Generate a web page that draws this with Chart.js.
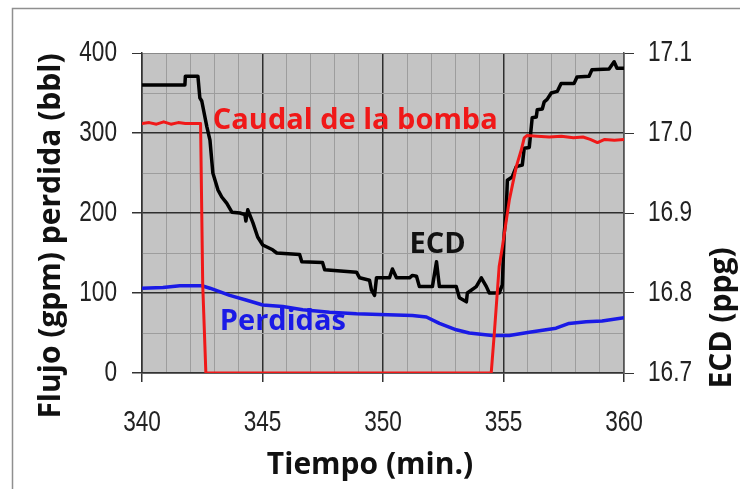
<!DOCTYPE html>
<html>
<head>
<meta charset="utf-8">
<script src="https://cdn.jsdelivr.net/npm/chart.js"></script>
<style>
  body { margin: 0; background: #fff; }
  #wrap { position: relative; width: 740px; height: 489px; }
</style>
</head>
<body>
<div id="wrap"><canvas id="myChart" width="740" height="489"></canvas></div>
<script>
// Caudal de la bomba (gpm) - eje izquierdo
var tiempoCaudal = [340, 340.3, 340.6, 340.9, 341.2, 341.5, 341.8, 342.1, 342.43, 342.52,
    342.65, 354.49, 354.62, 354.82, 354.95, 355.24, 355.53, 355.74, 355.86, 355.98,
    356.4, 356.9, 357.4, 357.9, 358.3, 358.6, 358.9, 359.2, 359.6, 360];
var caudal = [312, 313, 311, 314, 311, 313, 312, 312, 312, 110,
    0, 0, 50, 133, 157, 216, 258, 279, 294, 297,
    296, 295, 296, 294, 295, 292, 288, 292, 291, 292];

// ECD (ppg) - eje derecho
var tiempoECD = [340.00, 341.78, 341.80, 342.32, 342.40, 342.48, 342.69, 342.82, 342.94, 343.15,
    343.31, 343.52, 343.73, 344.06, 344.27, 344.31, 344.39, 344.60, 344.80, 345.01,
    345.42, 345.59, 346.54, 346.63, 347.49, 347.58, 348.90, 349.03, 349.44, 349.52,
    349.65, 349.73, 350.27, 350.39, 350.56, 351.10, 351.22, 351.39, 351.51, 352.05,
    352.22, 352.34, 353.04, 353.17, 353.46, 353.50, 353.87, 354.08, 354.29, 354.41,
    354.82, 354.95, 355.03, 355.11, 355.16, 355.36, 355.53, 355.78, 355.86, 356.07,
    356.19, 356.36, 356.40, 356.61, 356.69, 356.81, 356.98, 357.23, 357.39, 357.93,
    358.05, 358.55, 358.67, 359.38, 359.59, 359.71, 360.00];
var ecd = [17.060, 17.060, 17.071, 17.071, 17.044, 17.040, 17.008, 16.991, 16.950, 16.929,
    16.920, 16.912, 16.901, 16.900, 16.898, 16.890, 16.904, 16.888, 16.870, 16.860,
    16.854, 16.850, 16.848, 16.839, 16.838, 16.829, 16.826, 16.819, 16.816, 16.804,
    16.797, 16.819, 16.819, 16.830, 16.819, 16.819, 16.822, 16.821, 16.808, 16.808,
    16.839, 16.808, 16.808, 16.794, 16.789, 16.800, 16.808, 16.819, 16.808, 16.800,
    16.800, 16.810, 16.875, 16.900, 16.941, 16.945, 16.958, 16.960, 16.981, 16.982,
    17.019, 17.020, 17.029, 17.030, 17.039, 17.042, 17.050, 17.052, 17.062, 17.062,
    17.070, 17.071, 17.079, 17.080, 17.089, 17.081, 17.081];

// Perdidas (bbl) - eje izquierdo
var tiempoPerdidas = [340, 340.87, 341.57, 342.48, 342.82, 343.64, 344.35, 345.01, 345.84, 346.67,
    347.78, 348.90, 349.86, 351.22, 351.80, 352.34, 353.04, 353.58, 354.53, 355.24,
    356.07, 357.18, 357.72, 358.43, 359.09, 360];
var perdidas = [106, 107, 109, 109, 106, 97, 91, 85, 83, 79,
    76, 74, 73, 72, 70, 62, 54, 50, 47, 47,
    51, 56, 62, 64, 65, 69];

// textos dentro del grafico (posicion en unidades del eje izquierdo)
var etiquetas = ['Caudal de la bomba', 'ECD', 'Perdidas'];
var etiquetaX = [342.94, 351.1, 343.23];
var etiquetaY = [305, 150, 54];
var etiquetaColor = ['#f01818', '#111111', '#1a1ae6'];

var fuenteNum = '"Liberation Sans", Arial, sans-serif';
var fuenteTit = '"Open Sans", "Noto Sans", sans-serif';

function puntos(xs, ys) {
    var arr = [];
    for (var i = 0; i < xs.length; i++) {
        arr.push({ x: xs[i], y: ys[i] });
    }
    return arr;
}

function esMayor(v, paso) {
    return Math.abs(v / paso - Math.round(v / paso)) < 1e-6;
}

// numero angosto (la fuente narrow no esta, se comprime en x)
function numAngosto(ctx, texto, x, y, align) {
    ctx.save();
    ctx.translate(x, y);
    ctx.scale(0.78, 1);
    ctx.textAlign = align;
    ctx.textBaseline = 'middle';
    ctx.fillText(texto, 0, 0);
    ctx.restore();
}

// fondo gris del area y marco exterior
var fondoPlugin = {
    id: 'fondo',
    beforeDraw: function(chart) {
        var ctx = chart.ctx;
        var a = chart.chartArea;
        ctx.save();
        ctx.fillStyle = '#fff';
        ctx.fillRect(0, 0, chart.width, chart.height);
        ctx.strokeStyle = '#8f8f8f';
        ctx.lineWidth = 1.5;
        ctx.beginPath();
        ctx.moveTo(740, 8.5);
        ctx.lineTo(12.5, 8.5);
        ctx.lineTo(12.5, 489);
        ctx.stroke();
        ctx.fillStyle = '#c4c4c4';
        ctx.fillRect(a.left, a.top, a.right - a.left, a.bottom - a.top);
        ctx.restore();
    }
};

// titulos de ejes, numeros de los ejes y etiquetas de las series
var textoPlugin = {
    id: 'textos',
    afterDatasetsDraw: function(chart) {
        var ctx = chart.ctx;
        var sx = chart.scales.x;
        var sy = chart.scales.y;
        ctx.save();
        ctx.textAlign = 'left';
        ctx.textBaseline = 'alphabetic';
        ctx.font = 'bold 29px ' + fuenteTit;
        for (var i = 0; i < etiquetas.length; i++) {
            ctx.fillStyle = etiquetaColor[i];
            ctx.fillText(etiquetas[i], sx.getPixelForValue(etiquetaX[i]), sy.getPixelForValue(etiquetaY[i]));
        }
        ctx.restore();
    },
    afterDraw: function(chart) {
        var ctx = chart.ctx;
        var sx = chart.scales.x;
        var sy = chart.scales.y;
        var sy2 = chart.scales.y2;
        var i, t;
        ctx.save();
        ctx.fillStyle = '#222';
        ctx.font = '29px ' + fuenteNum;
        for (i = 0; i < sx.ticks.length; i++) {
            t = sx.ticks[i].value;
            if (esMayor(t, 5)) numAngosto(ctx, String(t), sx.getPixelForValue(t), 423, 'center');
        }
        for (i = 0; i < sy.ticks.length; i++) {
            t = sy.ticks[i].value;
            if (esMayor(t, 100)) numAngosto(ctx, String(t), 117, sy.getPixelForValue(t), 'right');
        }
        for (i = 0; i < sy2.ticks.length; i++) {
            t = sy2.ticks[i].value;
            numAngosto(ctx, t.toFixed(1), 648, sy2.getPixelForValue(t), 'left');
        }

        ctx.fillStyle = '#111';
        ctx.font = 'bold 30px ' + fuenteTit;
        ctx.textAlign = 'center';
        ctx.textBaseline = 'alphabetic';
        ctx.fillText('Tiempo (min.)', 370, 474);

        ctx.save();
        ctx.translate(60, 236);
        ctx.rotate(-Math.PI / 2);
        ctx.fillText('Flujo (gpm) perdida (bbl)', 0, 0);
        ctx.restore();

        ctx.save();
        ctx.translate(731, 318);
        ctx.rotate(-Math.PI / 2);
        ctx.fillText('ECD (ppg)', 0, 0);
        ctx.restore();
        ctx.restore();
    }
};

var ctx1 = document.getElementById('myChart').getContext('2d');
var myChart = new Chart(ctx1, {
    type: 'line',
    data: {
        datasets: [{
            label: 'Caudal de la bomba',
            data: puntos(tiempoCaudal, caudal),
            borderColor: '#f01818',
            borderWidth: 3,
            yAxisID: 'y'
        }, {
            label: 'ECD',
            data: puntos(tiempoECD, ecd),
            borderColor: '#000',
            borderWidth: 3.5,
            yAxisID: 'y2'
        }, {
            label: 'Perdidas',
            data: puntos(tiempoPerdidas, perdidas),
            borderColor: '#1a1ae6',
            borderWidth: 3.5,
            yAxisID: 'y'
        }]
    },
    options: {
        responsive: false,
        animation: false,
        events: [],
        elements: {
            point: { radius: 0 },
            line: { tension: 0, borderJoinStyle: 'round', borderCapStyle: 'round' }
        },
        layout: { padding: { left: 12, top: 53, right: 0, bottom: 0 } },
        plugins: {
            legend: { display: false },
            tooltip: { enabled: false }
        },
        scales: {
            x: {
                type: 'linear',
                min: 340,
                max: 360,
                afterFit: function(scale) { scale.height = 116; },
                ticks: {
                    display: false,
                    stepSize: 1,
                    autoSkip: false,
                    maxRotation: 0
                },
                grid: {
                    color: function(c) { return c.tick && esMayor(c.tick.value, 5) ? '#2e2e2e' : '#9d9d9d'; },
                    lineWidth: function(c) { return c.tick && esMayor(c.tick.value, 5) ? 1.5 : 1; },
                    tickColor: function(c) { return c.tick && esMayor(c.tick.value, 5) ? '#333' : 'rgba(0,0,0,0)'; },
                    tickLength: 9
                },
                border: { color: '#333', width: 1.5 }
            },
            y: {
                position: 'left',
                min: 0,
                max: 400,
                afterFit: function(scale) { scale.width = 130; },
                ticks: {
                    display: false,
                    stepSize: 50
                },
                grid: {
                    color: function(c) {
                        if (!c.tick) return '#9d9d9d';
                        if (c.tick.value >= 400) return '#8a8a8a';
                        return esMayor(c.tick.value, 100) ? '#2e2e2e' : '#9d9d9d';
                    },
                    lineWidth: function(c) { return c.tick && esMayor(c.tick.value, 100) && c.tick.value < 400 ? 1.5 : 1; },
                    tickColor: function(c) { return c.tick && esMayor(c.tick.value, 100) ? '#333' : 'rgba(0,0,0,0)'; },
                    tickLength: 10
                },
                border: { color: '#333', width: 1.5 }
            },
            y2: {
                position: 'right',
                min: 16.7,
                max: 17.1,
                afterFit: function(scale) { scale.width = 116; },
                ticks: {
                    display: false,
                    stepSize: 0.1
                },
                grid: {
                    drawOnChartArea: false,
                    tickColor: '#333',
                    tickLength: 10
                },
                border: { color: '#555', width: 1.5 }
            }
        }
    },
    plugins: [fondoPlugin, textoPlugin]
});
</script>
</body>
</html>
